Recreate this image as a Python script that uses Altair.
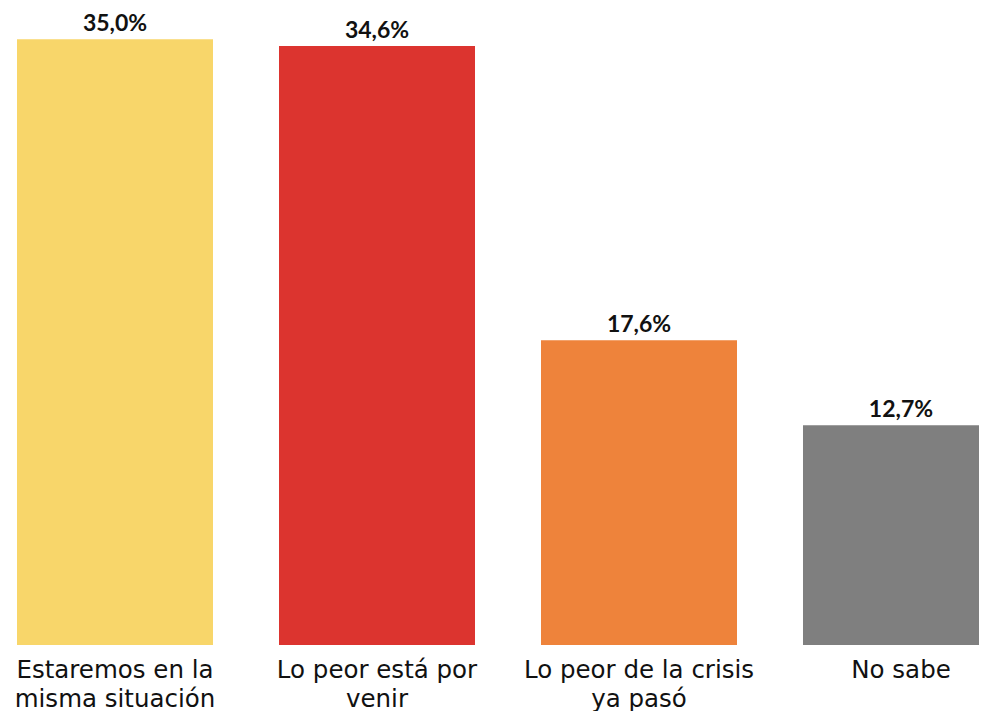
import altair as alt
import pandas as pd

categories = ["Estaremos en la|misma situación", "Lo peor está por|venir", "Lo peor de la crisis|ya pasó", "No sabe"]
values = [35.0, 34.6, 17.6, 12.7]
labels = ["35,0%", "34,6%", "17,6%", "12,7%"]
colors = ["#F8D66A", "#DC342F", "#EE833B", "#7F7F7F"]

df = pd.DataFrame({"cat": categories, "val": values, "lab": labels, "col": colors})

x = alt.X(
    "cat:N",
    sort=categories,
    title=None,
    scale=alt.Scale(paddingInner=0.2519, paddingOuter=0.01718, align=1),
    axis=alt.Axis(
        labelAngle=0,
        domain=False,
        ticks=False,
        labelExpr="split(datum.label, '|')",
        labelFont="DejaVu Sans",
        labelFontSize=24.5,
        labelColor="#111111",
        labelLineHeight=29,
        labelPadding=32,
        labelBaseline="alphabetic",
        labelLimit=400,
    ),
)
y = alt.Y("val:Q", scale=alt.Scale(domain=[0, 36.80], nice=False, zero=True), axis=None)

bars = alt.Chart(df).mark_bar().encode(x=x, y=y, color=alt.Color("col:N", scale=None))
text = alt.Chart(df).mark_text(
    baseline="alphabetic", dy=-8, font="Lato", fontWeight="bold", fontSize=23, color="#111111"
).encode(x=x, y=y, text="lab:N")

chart = (
    alt.layer(bars, text)
    .properties(
        width=991,
        height=637,
        autosize=alt.AutoSizeParams(type="none"),
        padding={"left": 0, "right": -20, "top": 0, "bottom": 66},
    )
    .configure_view(stroke=None)
)

chart.save("out.html", embed_options={"renderer": "svg", "actions": False})
